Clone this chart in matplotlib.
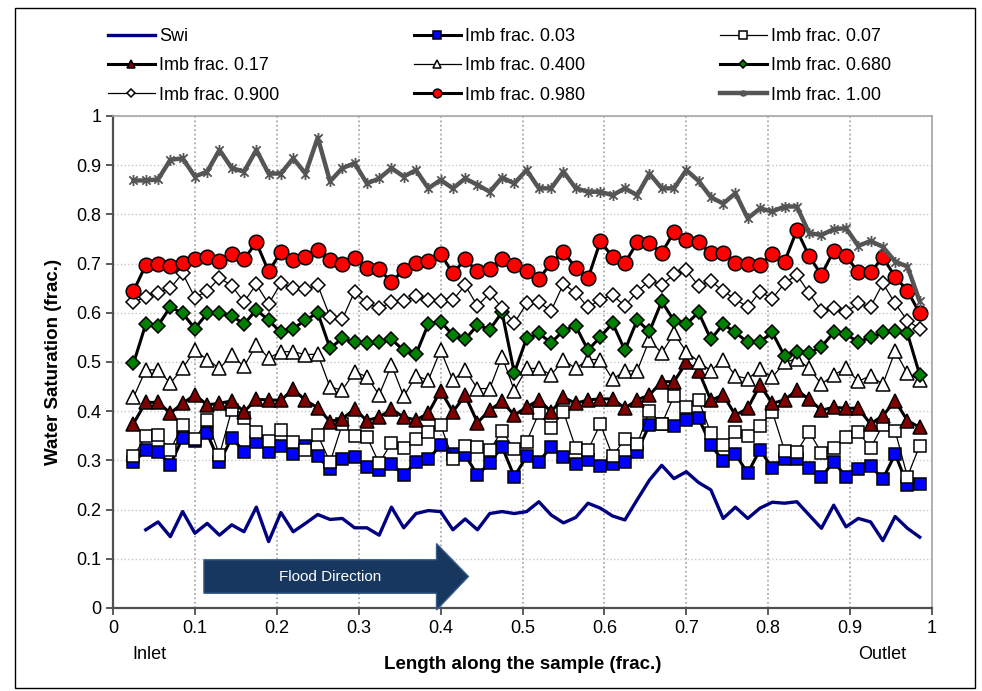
import numpy as np
import matplotlib
matplotlib.use('Agg')
import matplotlib.pyplot as plt
import matplotlib.patches as patches
from matplotlib.path import Path

# narrow sans like the original (falls back if not installed)
plt.rcParams['font.family'] = ['Liberation Sans Narrow', 'Liberation Sans', 'DejaVu Sans']

# position along the sample (frac.)
x = [0.025, 0.040, 0.055, 0.070, 0.085, 0.100, 0.115, 0.130, 0.145, 0.160,
     0.175, 0.190, 0.205, 0.220, 0.235, 0.250, 0.265, 0.280, 0.295, 0.310,
     0.325, 0.340, 0.355, 0.370, 0.385, 0.400, 0.415, 0.430, 0.445, 0.460,
     0.475, 0.490, 0.505, 0.520, 0.535, 0.550, 0.565, 0.580, 0.595, 0.610,
     0.625, 0.640, 0.655, 0.670, 0.685, 0.700, 0.715, 0.730, 0.745, 0.760,
     0.775, 0.790, 0.805, 0.820, 0.835, 0.850, 0.865, 0.880, 0.895, 0.910,
     0.925, 0.940, 0.955, 0.970, 0.985]

# water saturation profiles
swi = [np.nan, 0.159, 0.175, 0.145, 0.196, 0.152, 0.172, 0.148, 0.169, 0.155,
       0.205, 0.135, 0.194, 0.155, 0.172, 0.190, 0.180, 0.182, 0.163, 0.163,
       0.148, 0.205, 0.163, 0.192, 0.198, 0.196, 0.159, 0.181, 0.159, 0.192,
       0.196, 0.192, 0.196, 0.216, 0.189, 0.173, 0.184, 0.213, 0.203, 0.187,
       0.179, 0.220, 0.260, 0.290, 0.263, 0.277, 0.255, 0.240, 0.182, 0.205,
       0.182, 0.203, 0.215, 0.213, 0.216, 0.189, 0.162, 0.209, 0.165, 0.182,
       0.175, 0.137, 0.186, 0.162, 0.144]

imb_003 = [0.296, 0.321, 0.318, 0.291, 0.346, 0.340, 0.355, 0.296, 0.346, 0.318,
           0.338, 0.318, 0.329, 0.312, 0.329, 0.308, 0.282, 0.303, 0.306, 0.287,
           0.280, 0.293, 0.270, 0.297, 0.302, 0.331, 0.314, 0.311, 0.270, 0.295,
           0.328, 0.267, 0.308, 0.297, 0.328, 0.306, 0.293, 0.301, 0.289, 0.293,
           0.296, 0.318, 0.372, 0.375, 0.369, 0.382, 0.386, 0.331, 0.299, 0.313,
           0.274, 0.322, 0.284, 0.302, 0.302, 0.284, 0.267, 0.297, 0.267, 0.282,
           0.289, 0.262, 0.313, 0.250, 0.252]

imb_007 = [0.308, 0.349, 0.352, 0.321, 0.372, 0.343, 0.382, 0.311, 0.403, 0.386,
           0.357, 0.339, 0.362, 0.337, 0.322, 0.352, 0.296, 0.374, 0.350, 0.348,
           0.294, 0.336, 0.325, 0.343, 0.358, 0.372, 0.303, 0.330, 0.328, 0.321,
           0.360, 0.323, 0.338, 0.396, 0.365, 0.399, 0.325, 0.321, 0.374, 0.309,
           0.343, 0.333, 0.401, 0.374, 0.431, 0.408, 0.423, 0.355, 0.331, 0.358,
           0.350, 0.370, 0.399, 0.320, 0.318, 0.358, 0.316, 0.325, 0.347, 0.358,
           0.325, 0.372, 0.360, 0.267, 0.330]

imb_017 = [0.375, 0.418, 0.418, 0.396, 0.416, 0.433, 0.413, 0.416, 0.421, 0.399,
           0.424, 0.423, 0.422, 0.445, 0.422, 0.407, 0.379, 0.385, 0.404, 0.381,
           0.388, 0.404, 0.388, 0.382, 0.396, 0.442, 0.399, 0.432, 0.377, 0.402,
           0.420, 0.392, 0.408, 0.423, 0.399, 0.428, 0.416, 0.423, 0.425, 0.425,
           0.406, 0.423, 0.433, 0.460, 0.460, 0.499, 0.482, 0.422, 0.433, 0.392,
           0.406, 0.453, 0.416, 0.423, 0.443, 0.424, 0.402, 0.408, 0.406, 0.406,
           0.374, 0.391, 0.421, 0.381, 0.367]

imb_040 = [0.428, 0.484, 0.484, 0.457, 0.487, 0.524, 0.505, 0.487, 0.514, 0.491,
           0.535, 0.508, 0.521, 0.521, 0.515, 0.516, 0.449, 0.443, 0.480, 0.470,
           0.433, 0.494, 0.430, 0.472, 0.463, 0.524, 0.463, 0.484, 0.446, 0.446,
           0.511, 0.442, 0.487, 0.487, 0.474, 0.504, 0.487, 0.505, 0.505, 0.465,
           0.482, 0.482, 0.545, 0.518, 0.558, 0.521, 0.501, 0.482, 0.505, 0.472,
           0.466, 0.485, 0.469, 0.499, 0.507, 0.487, 0.455, 0.474, 0.487, 0.461,
           0.472, 0.455, 0.522, 0.477, 0.463]

imb_068 = [0.497, 0.577, 0.574, 0.612, 0.599, 0.568, 0.599, 0.599, 0.594, 0.577,
           0.606, 0.585, 0.560, 0.568, 0.585, 0.600, 0.528, 0.548, 0.540, 0.538,
           0.541, 0.546, 0.524, 0.516, 0.577, 0.582, 0.555, 0.546, 0.575, 0.566,
           0.601, 0.478, 0.548, 0.558, 0.539, 0.564, 0.573, 0.524, 0.551, 0.579,
           0.524, 0.585, 0.562, 0.623, 0.584, 0.577, 0.601, 0.546, 0.577, 0.560,
           0.540, 0.541, 0.560, 0.512, 0.521, 0.518, 0.531, 0.560, 0.556, 0.541,
           0.550, 0.560, 0.564, 0.558, 0.474]

imb_090 = [0.621, 0.633, 0.641, 0.650, 0.680, 0.631, 0.644, 0.671, 0.655, 0.622,
           0.658, 0.618, 0.660, 0.650, 0.648, 0.656, 0.592, 0.587, 0.643, 0.619,
           0.610, 0.621, 0.623, 0.635, 0.626, 0.623, 0.626, 0.656, 0.614, 0.640,
           0.610, 0.579, 0.619, 0.621, 0.604, 0.659, 0.641, 0.611, 0.627, 0.636,
           0.614, 0.643, 0.665, 0.657, 0.678, 0.686, 0.655, 0.665, 0.644, 0.628,
           0.611, 0.643, 0.629, 0.660, 0.677, 0.640, 0.604, 0.609, 0.601, 0.619,
           0.612, 0.660, 0.619, 0.584, 0.568]

imb_098 = [0.644, 0.697, 0.699, 0.696, 0.701, 0.709, 0.713, 0.706, 0.720, 0.709,
           0.743, 0.684, 0.723, 0.707, 0.714, 0.727, 0.707, 0.699, 0.712, 0.692,
           0.689, 0.662, 0.688, 0.701, 0.706, 0.720, 0.680, 0.709, 0.684, 0.689,
           0.709, 0.697, 0.684, 0.668, 0.702, 0.723, 0.692, 0.670, 0.745, 0.714,
           0.701, 0.743, 0.741, 0.722, 0.764, 0.747, 0.743, 0.721, 0.722, 0.702,
           0.699, 0.697, 0.720, 0.704, 0.768, 0.715, 0.677, 0.726, 0.716, 0.682,
           0.682, 0.713, 0.673, 0.645, 0.599]

imb_100 = [0.869, 0.869, 0.871, 0.911, 0.914, 0.877, 0.887, 0.931, 0.894, 0.887,
           0.931, 0.883, 0.883, 0.914, 0.883, 0.956, 0.867, 0.894, 0.904, 0.863,
           0.873, 0.894, 0.877, 0.890, 0.853, 0.870, 0.853, 0.873, 0.860, 0.846,
           0.875, 0.863, 0.890, 0.853, 0.853, 0.887, 0.853, 0.846, 0.846, 0.839,
           0.853, 0.839, 0.883, 0.853, 0.853, 0.890, 0.868, 0.835, 0.822, 0.843,
           0.792, 0.812, 0.806, 0.816, 0.816, 0.762, 0.758, 0.770, 0.772, 0.736,
           0.746, 0.734, 0.704, 0.694, 0.623]

ticks = [0, 0.1, 0.2, 0.3, 0.4, 0.5, 0.6, 0.7, 0.8, 0.9, 1]
tick_labels = ['0', '0.1', '0.2', '0.3', '0.4', '0.5', '0.6', '0.7', '0.8', '0.9', '1']

# excel style "star" marker: vertical bar plus an X
star = Path([(0, -1), (0, 1), (-0.75, -0.75), (0.75, 0.75), (-0.75, 0.75), (0.75, -0.75)],
            [Path.MOVETO, Path.LINETO] * 3)

W, H = 982, 691
fig = plt.figure(figsize=(W / 100, H / 100), dpi=100)
ax = fig.add_axes([113 / W, 83 / H, 819 / W, 492 / H])

thick = 2.2
thin = 0.9
mew = 1.1
h = {}
h['Swi'] = ax.plot(x, swi, color='#000080', lw=2.4)[0]
h['Imb frac. 0.03'] = ax.plot(x, imb_003, color='black', lw=thick, marker='s', ms=8.5,
                              mfc='#0000ff', mec='black', mew=mew)[0]
h['Imb frac. 0.07'] = ax.plot(x, imb_007, color='black', lw=thin, marker='s', ms=9,
                              mfc='white', mec='black', mew=mew)[0]
h['Imb frac. 0.17'] = ax.plot(x, imb_017, color='black', lw=thick, marker='^', ms=10,
                              mfc='#7f0000', mec='black', mew=mew)[0]
h['Imb frac. 0.400'] = ax.plot(x, imb_040, color='black', lw=thin, marker='^', ms=10.5,
                               mfc='white', mec='black', mew=mew)[0]
h['Imb frac. 0.680'] = ax.plot(x, imb_068, color='black', lw=thick, marker='D', ms=7,
                               mfc='#008000', mec='black', mew=mew)[0]
h['Imb frac. 0.900'] = ax.plot(x, imb_090, color='black', lw=thin, marker='D', ms=7,
                               mfc='white', mec='black', mew=mew)[0]
h['Imb frac. 0.980'] = ax.plot(x, imb_098, color='black', lw=thick, marker='o', ms=10.5,
                               mfc='#ff0000', mec='black', mew=mew)[0]
h['Imb frac. 1.00'] = ax.plot(x, imb_100, color='#555555', lw=3.2, marker=star, ms=8,
                              mec='#555555', mew=1.3)[0]

ax.set_xlim(0, 1)
ax.set_ylim(0, 1)
ax.set_xticks(ticks)
ax.set_xticklabels(tick_labels)
ax.set_yticks(ticks)
ax.set_yticklabels(tick_labels)
ax.tick_params(labelsize=13, length=5, width=1.2, color='#404040', direction='out')

ax.grid(axis='y', color='#c8c8c8', linestyle=':', linewidth=1.0)
ax.grid(axis='x', color='#a0a0a0', linestyle=':', linewidth=1.2)
ax.set_axisbelow(True)
for s in ['left', 'bottom']:
    ax.spines[s].set_color('#505050')
    ax.spines[s].set_linewidth(1.6)
for s in ['top', 'right']:
    ax.spines[s].set_color('#a6a6a6')
    ax.spines[s].set_linewidth(1.2)

ax.set_ylabel('Water Saturation (frac.)', fontsize=13.5, fontweight='bold', labelpad=10)
ax.set_xlabel('Length along the sample (frac.)', fontsize=13.5, fontweight='bold', labelpad=14)
ax.text(0.044, -0.095, 'Inlet', transform=ax.transAxes, fontsize=13, ha='center', va='center')
ax.text(0.939, -0.095, 'Outlet', transform=ax.transAxes, fontsize=13, ha='center', va='center')

# flood direction arrow
arrow = patches.Polygon([(0.111, 0.030), (0.395, 0.030), (0.395, -0.004), (0.434, 0.064),
                         (0.395, 0.131), (0.395, 0.098), (0.111, 0.098)],
                        closed=True, facecolor='#17375e', edgecolor='#385d8a', lw=1,
                        zorder=3, clip_on=False)
ax.add_patch(arrow)
ax.text(0.265, 0.064, 'Flood Direction', color='white', fontsize=11, ha='center', va='center',
        zorder=4)

# legend laid out row by row in three columns
cols = [['Swi', 'Imb frac. 0.17', 'Imb frac. 0.900'],
        ['Imb frac. 0.03', 'Imb frac. 0.400', 'Imb frac. 0.980'],
        ['Imb frac. 0.07', 'Imb frac. 0.680', 'Imb frac. 1.00']]
col_x = [108, 414, 720]
for names, cx in zip(cols, col_x):
    fig.legend([h[n] for n in names], names, loc='upper left',
               bbox_to_anchor=(cx / W, 1 - 28 / H), frameon=False, borderpad=0,
               borderaxespad=0, handlelength=2.6, handletextpad=0.25,
               labelspacing=0.68, markerscale=0.6, fontsize=13)

# outer chart border
fig.add_artist(patches.Rectangle((15 / W, 3 / H), 960 / W, 680 / H, transform=fig.transFigure,
                                 fill=False, edgecolor='black', lw=1))

fig.savefig('out.png', dpi=100)
